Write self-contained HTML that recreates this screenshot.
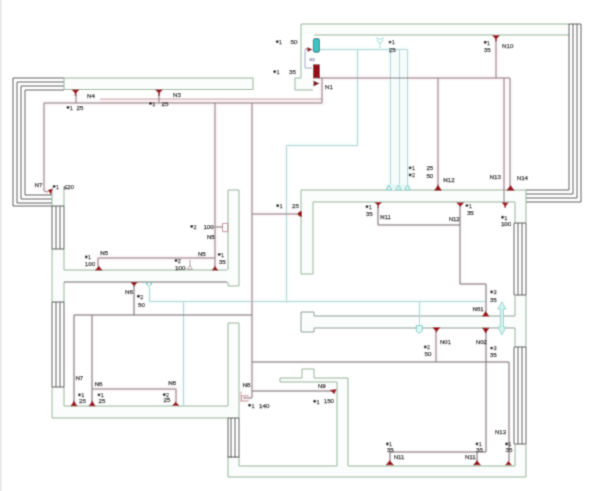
<!DOCTYPE html>
<html><head><meta charset="utf-8"><style>
html,body{margin:0;padding:0;background:#fff;}
body{width:600px;height:491px;overflow:hidden;position:relative;}
svg{position:absolute;left:0;top:0;font-family:"Liberation Sans",sans-serif;}
</style></head><body>
<svg width="600" height="491" viewBox="0 0 600 491">
<defs><filter id="f" x="0" y="0" width="600" height="491" filterUnits="userSpaceOnUse"><feConvolveMatrix order="3" kernelMatrix="1 4 1 4 16 4 1 4 1" divisor="36" edgeMode="duplicate"/></filter></defs>
<g filter="url(#f)"><rect width="600" height="491" fill="#fff"/>
<rect x="0" y="0" width="1.5" height="491" fill="#e6e6e6"/>
<line x1="64" y1="282" x2="227" y2="282" stroke="#fcf8f9" stroke-width="4"/>
<line x1="319.5" y1="49.5" x2="407.5" y2="49.5" stroke="#f1fbfb" stroke-width="4"/>
<line x1="357.5" y1="49.5" x2="357.5" y2="145.5" stroke="#f1fbfb" stroke-width="4"/>
<line x1="286.5" y1="145.5" x2="357.5" y2="145.5" stroke="#f1fbfb" stroke-width="4"/>
<line x1="286.5" y1="145.5" x2="286.5" y2="302.5" stroke="#f1fbfb" stroke-width="4"/>
<line x1="390.5" y1="49.5" x2="390.5" y2="186.5" stroke="#f1fbfb" stroke-width="4"/>
<line x1="399.5" y1="49.5" x2="399.5" y2="186.5" stroke="#f1fbfb" stroke-width="4"/>
<line x1="407.5" y1="49.5" x2="407.5" y2="186.5" stroke="#f1fbfb" stroke-width="4"/>
<polyline points="149.5,287.5 149.5,301.5 486.5,301.5" fill="none" stroke="#f1fbfb" stroke-width="4"/>
<line x1="183.5" y1="301.5" x2="183.5" y2="406.5" stroke="#f1fbfb" stroke-width="4"/>
<line x1="419.5" y1="301.5" x2="419.5" y2="326.5" stroke="#f1fbfb" stroke-width="4"/>
<polyline points="44,191 44,103 322,103 322,78" fill="none" stroke="#fdf4f6" stroke-width="5"/>
<line x1="319" y1="78" x2="510" y2="78" stroke="#fdf4f6" stroke-width="5"/>
<line x1="438" y1="78" x2="438" y2="186" stroke="#fdf4f6" stroke-width="5"/>
<line x1="496" y1="39" x2="496" y2="78" stroke="#fdf4f6" stroke-width="5"/>
<line x1="504" y1="78" x2="504" y2="203" stroke="#fdf4f6" stroke-width="5"/>
<line x1="510" y1="78" x2="510" y2="186" stroke="#fdf4f6" stroke-width="5"/>
<line x1="76" y1="92" x2="76" y2="103" stroke="#fdf4f6" stroke-width="5"/>
<line x1="159" y1="92" x2="159" y2="103" stroke="#fdf4f6" stroke-width="5"/>
<line x1="215" y1="103" x2="215" y2="266" stroke="#fdf4f6" stroke-width="5"/>
<line x1="252" y1="103" x2="252" y2="398" stroke="#fdf4f6" stroke-width="5"/>
<line x1="252" y1="214" x2="297" y2="214" stroke="#fdf4f6" stroke-width="5"/>
<polyline points="98,266 98,258 215,258" fill="none" stroke="#fdf4f6" stroke-width="5"/>
<line x1="134" y1="286" x2="134" y2="315" stroke="#fcf8f9" stroke-width="4"/>
<polyline points="74,402 74,315 252,315" fill="none" stroke="#fcf8f9" stroke-width="4"/>
<line x1="92" y1="315" x2="92" y2="402" stroke="#fcf8f9" stroke-width="4"/>
<polyline points="92,389 176,389 176,402" fill="none" stroke="#fdf4f6" stroke-width="5"/>
<line x1="252" y1="362" x2="509" y2="362" stroke="#fcf8f9" stroke-width="4"/>
<line x1="509" y1="362" x2="509" y2="461" stroke="#fcf8f9" stroke-width="4"/>
<line x1="252" y1="391" x2="331" y2="391" stroke="#fcf8f9" stroke-width="4"/>
<polyline points="378,207 378,225 460,225" fill="none" stroke="#fcf8f9" stroke-width="4"/>
<polyline points="460,207 460,284 486,284 486,311" fill="none" stroke="#fcf8f9" stroke-width="4"/>
<line x1="486" y1="332" x2="486" y2="452" stroke="#fcf8f9" stroke-width="4"/>
<line x1="436" y1="331" x2="436" y2="362" stroke="#fdf4f6" stroke-width="5"/>
<polyline points="390,461 390,452 486,452" fill="none" stroke="#fcf8f9" stroke-width="4"/>
<line x1="477" y1="452" x2="477" y2="461" stroke="#fcf8f9" stroke-width="4"/>
<line x1="215" y1="227" x2="223" y2="227" stroke="#fdf4f6" stroke-width="5"/>
<line x1="44" y1="191" x2="48" y2="192" stroke="#fdf4f6" stroke-width="5"/>
<line x1="243" y1="398" x2="252" y2="398" stroke="#fdf4f6" stroke-width="5"/>
<rect x="301" y="24" width="268" height="11" fill="#fafdfb"/>
<rect x="64" y="78" width="189" height="11.5" fill="#fafdfb"/>
<rect x="301" y="190" width="225" height="12.5" fill="#fafdfb"/>
<rect x="301" y="190" width="12" height="84" fill="#fafdfb"/>
<rect x="52.5" y="190" width="11.5" height="16" fill="#fafdfb"/>
<rect x="227.5" y="190" width="11.5" height="96" fill="#fafdfb"/>
<rect x="64" y="270" width="163" height="11.5" fill="#fafdfb"/>
<rect x="52.5" y="249" width="11.5" height="53" fill="#fafdfb"/>
<rect x="52.5" y="387" width="11.5" height="31.5" fill="#fafdfb"/>
<rect x="64" y="406.5" width="163.5" height="12" fill="#fafdfb"/>
<rect x="227" y="323" width="12" height="95.5" fill="#fafdfb"/>
<rect x="239" y="465.5" width="287" height="11.5" fill="#fafdfb"/>
<rect x="227" y="457" width="12" height="20" fill="#fafdfb"/>
<rect x="515" y="444" width="11" height="33" fill="#fafdfb"/>
<rect x="515" y="295" width="11" height="52" fill="#fafdfb"/>
<rect x="515" y="202.5" width="11" height="21" fill="#fafdfb"/>
<rect x="337" y="377.5" width="11" height="88" fill="#fafdfb"/>
<rect x="280" y="377.5" width="57" height="4.8" fill="#fafdfb"/>
<rect x="295.3" y="78" width="17.5" height="11.6" fill="#fafdfb"/>
<rect x="313" y="315.5" width="202" height="12.5" fill="#fafdfb"/>
<rect x="301" y="312" width="12" height="19.5" fill="#fafdfb"/>
<polyline points="64,78 13,78 13,206 52,206" fill="none" stroke="#565656" stroke-width="1"/>
<polyline points="64,82 17,82 17,203 52,203" fill="none" stroke="#565656" stroke-width="1"/>
<polyline points="64,86 21,86 21,199 52,199" fill="none" stroke="#565656" stroke-width="1"/>
<polyline points="64,90 25,90 25,195 52,195" fill="none" stroke="#565656" stroke-width="1"/>
<line x1="52" y1="206" x2="52" y2="249" stroke="#565656" stroke-width="1"/>
<line x1="52" y1="302" x2="52" y2="387" stroke="#565656" stroke-width="1"/>
<line x1="56" y1="206" x2="56" y2="249" stroke="#565656" stroke-width="1"/>
<line x1="56" y1="302" x2="56" y2="387" stroke="#565656" stroke-width="1"/>
<line x1="60" y1="206" x2="60" y2="249" stroke="#565656" stroke-width="1"/>
<line x1="60" y1="302" x2="60" y2="387" stroke="#565656" stroke-width="1"/>
<line x1="64" y1="206" x2="64" y2="249" stroke="#565656" stroke-width="1"/>
<line x1="64" y1="302" x2="64" y2="387" stroke="#565656" stroke-width="1"/>
<line x1="52" y1="188" x2="52" y2="206" stroke="#96b49a" stroke-width="1"/>
<line x1="64" y1="188" x2="64" y2="206" stroke="#96b49a" stroke-width="1"/>
<rect x="64" y="78" width="189" height="11.5" fill="none" stroke="#96b49a" stroke-width="1"/>
<line x1="52" y1="249" x2="52" y2="302" stroke="#96b49a" stroke-width="1"/>
<line x1="64" y1="249" x2="64" y2="270" stroke="#96b49a" stroke-width="1"/>
<line x1="64" y1="282" x2="64" y2="302" stroke="#96b49a" stroke-width="1"/>
<line x1="52" y1="387" x2="52" y2="418" stroke="#96b49a" stroke-width="1"/>
<line x1="64" y1="387" x2="64" y2="406" stroke="#96b49a" stroke-width="1"/>
<line x1="52" y1="418" x2="228" y2="418" stroke="#96b49a" stroke-width="1"/>
<line x1="64" y1="406" x2="228" y2="406" stroke="#96b49a" stroke-width="1"/>
<line x1="64" y1="270" x2="227" y2="270" stroke="#96b49a" stroke-width="1"/>
<line x1="64" y1="282" x2="227" y2="282" stroke="#6f6a6c" stroke-width="1"/>
<polyline points="228,270 228,190 239,190 239,286 228,286 228,282" fill="none" stroke="#96b49a" stroke-width="1"/>
<polyline points="228,406 228,323 239,323 239,418" fill="none" stroke="#96b49a" stroke-width="1"/>
<line x1="228" y1="418" x2="228" y2="458" stroke="#565656" stroke-width="1"/>
<line x1="231" y1="418" x2="231" y2="458" stroke="#565656" stroke-width="1"/>
<line x1="235" y1="418" x2="235" y2="458" stroke="#565656" stroke-width="1"/>
<line x1="239" y1="418" x2="239" y2="458" stroke="#565656" stroke-width="1"/>
<polyline points="228,458 228,477 526,477" fill="none" stroke="#96b49a" stroke-width="1"/>
<polyline points="239,458 239,466 337,466" fill="none" stroke="#96b49a" stroke-width="1"/>
<polyline points="280,378 302,378 302,369 314,369 314,378 348,378 348,466 515,466" fill="none" stroke="#96b49a" stroke-width="1"/>
<polyline points="280,378 280,382 337,382 337,466" fill="none" stroke="#96b49a" stroke-width="1"/>
<line x1="301" y1="24" x2="569" y2="24" stroke="#96b49a" stroke-width="1"/>
<line x1="314" y1="35" x2="569" y2="35" stroke="#96b49a" stroke-width="1"/>
<polyline points="301,24 301,78 295,78 295,90 313,90" fill="none" stroke="#96b49a" stroke-width="1"/>
<polyline points="569,24 569,190 526,190" fill="none" stroke="#565656" stroke-width="1"/>
<polyline points="573,24 573,194 526,194" fill="none" stroke="#565656" stroke-width="1"/>
<polyline points="577,24 577,198 526,198" fill="none" stroke="#565656" stroke-width="1"/>
<polyline points="581,24 581,202 526,202" fill="none" stroke="#565656" stroke-width="1"/>
<line x1="569" y1="24" x2="581" y2="24" stroke="#565656" stroke-width="1"/>
<line x1="301" y1="190" x2="526" y2="190" stroke="#96b49a" stroke-width="1"/>
<line x1="313" y1="202" x2="515" y2="202" stroke="#96b49a" stroke-width="1"/>
<polyline points="301,190 301,274 313,274 313,202" fill="none" stroke="#96b49a" stroke-width="1"/>
<line x1="526" y1="190" x2="526" y2="223" stroke="#96b49a" stroke-width="1"/>
<line x1="515" y1="202" x2="515" y2="223" stroke="#96b49a" stroke-width="1"/>
<line x1="514" y1="223" x2="514" y2="295" stroke="#565656" stroke-width="1"/>
<line x1="514" y1="347" x2="514" y2="444" stroke="#565656" stroke-width="1"/>
<line x1="518" y1="223" x2="518" y2="295" stroke="#565656" stroke-width="1"/>
<line x1="518" y1="347" x2="518" y2="444" stroke="#565656" stroke-width="1"/>
<line x1="522" y1="223" x2="522" y2="295" stroke="#565656" stroke-width="1"/>
<line x1="522" y1="347" x2="522" y2="444" stroke="#565656" stroke-width="1"/>
<line x1="526" y1="223" x2="526" y2="295" stroke="#565656" stroke-width="1"/>
<line x1="526" y1="347" x2="526" y2="444" stroke="#565656" stroke-width="1"/>
<line x1="526" y1="295" x2="526" y2="347" stroke="#96b49a" stroke-width="1"/>
<line x1="514" y1="223" x2="526" y2="223" stroke="#565656" stroke-width="1"/>
<line x1="514" y1="295" x2="526" y2="295" stroke="#565656" stroke-width="1"/>
<line x1="514" y1="347" x2="526" y2="347" stroke="#565656" stroke-width="1"/>
<line x1="514" y1="444" x2="526" y2="444" stroke="#565656" stroke-width="1"/>
<line x1="52" y1="206" x2="64" y2="206" stroke="#565656" stroke-width="1"/>
<line x1="52" y1="249" x2="64" y2="249" stroke="#565656" stroke-width="1"/>
<line x1="52" y1="302" x2="64" y2="302" stroke="#565656" stroke-width="1"/>
<line x1="52" y1="387" x2="64" y2="387" stroke="#565656" stroke-width="1"/>
<line x1="228" y1="418" x2="239" y2="418" stroke="#565656" stroke-width="1"/>
<line x1="228" y1="457" x2="239" y2="457" stroke="#565656" stroke-width="1"/>
<line x1="515" y1="295" x2="515" y2="316" stroke="#96b49a" stroke-width="1"/>
<line x1="515" y1="328" x2="515" y2="347" stroke="#96b49a" stroke-width="1"/>
<line x1="526" y1="444" x2="526" y2="477" stroke="#96b49a" stroke-width="1"/>
<line x1="515" y1="444" x2="515" y2="466" stroke="#96b49a" stroke-width="1"/>
<polyline points="515,316 314,316 314,312 301,312 301,332 314,332 314,328 515,328" fill="none" stroke="#8e9e94" stroke-width="1"/>
<rect x="391" y="50" width="16" height="136" fill="#f4fcfc"/>
<line x1="319.5" y1="49.5" x2="407.5" y2="49.5" stroke="#b4d6d8" stroke-width="1"/>
<line x1="357.5" y1="49.5" x2="357.5" y2="145.5" stroke="#b4d6d8" stroke-width="1"/>
<line x1="286.5" y1="145.5" x2="357.5" y2="145.5" stroke="#b4d6d8" stroke-width="1"/>
<line x1="286.5" y1="145.5" x2="286.5" y2="302.5" stroke="#b4d6d8" stroke-width="1"/>
<line x1="390.5" y1="49.5" x2="390.5" y2="186.5" stroke="#b4d6d8" stroke-width="1"/>
<line x1="399.5" y1="49.5" x2="399.5" y2="186.5" stroke="#b4d6d8" stroke-width="1"/>
<line x1="407.5" y1="49.5" x2="407.5" y2="186.5" stroke="#b4d6d8" stroke-width="1"/>
<polyline points="149.5,287.5 149.5,301.5 486.5,301.5" fill="none" stroke="#b4d6d8" stroke-width="1"/>
<line x1="183.5" y1="301.5" x2="183.5" y2="406.5" stroke="#b4d6d8" stroke-width="1"/>
<line x1="419.5" y1="301.5" x2="419.5" y2="326.5" stroke="#b4d6d8" stroke-width="1"/>
<rect x="100" y="99.5" width="222" height="3.5" fill="#fcedf0"/>
<line x1="100" y1="99" x2="322" y2="99" stroke="#c4a0a8" stroke-width="1"/>
<polyline points="44,191 44,103 322,103 322,78" fill="none" stroke="#85787e" stroke-width="1"/>
<line x1="319" y1="78" x2="510" y2="78" stroke="#85787e" stroke-width="1"/>
<line x1="438" y1="78" x2="438" y2="186" stroke="#85787e" stroke-width="1"/>
<line x1="496" y1="39" x2="496" y2="78" stroke="#85787e" stroke-width="1"/>
<line x1="504" y1="78" x2="504" y2="203" stroke="#85787e" stroke-width="1"/>
<line x1="510" y1="78" x2="510" y2="186" stroke="#85787e" stroke-width="1"/>
<line x1="76" y1="92" x2="76" y2="103" stroke="#85787e" stroke-width="1"/>
<line x1="159" y1="92" x2="159" y2="103" stroke="#85787e" stroke-width="1"/>
<line x1="215" y1="103" x2="215" y2="266" stroke="#85787e" stroke-width="1"/>
<line x1="252" y1="103" x2="252" y2="398" stroke="#85787e" stroke-width="1"/>
<line x1="252" y1="214" x2="297" y2="214" stroke="#85787e" stroke-width="1"/>
<polyline points="98,266 98,258 215,258" fill="none" stroke="#85787e" stroke-width="1"/>
<line x1="134" y1="286" x2="134" y2="315" stroke="#6f6a6c" stroke-width="1"/>
<polyline points="74,402 74,315 252,315" fill="none" stroke="#6f6a6c" stroke-width="1"/>
<line x1="92" y1="315" x2="92" y2="402" stroke="#6f6a6c" stroke-width="1"/>
<polyline points="92,389 176,389 176,402" fill="none" stroke="#85787e" stroke-width="1"/>
<line x1="252" y1="362" x2="509" y2="362" stroke="#6f6a6c" stroke-width="1"/>
<line x1="509" y1="362" x2="509" y2="461" stroke="#6f6a6c" stroke-width="1"/>
<line x1="252" y1="391" x2="331" y2="391" stroke="#6f6a6c" stroke-width="1"/>
<polyline points="378,207 378,225 460,225" fill="none" stroke="#6f6a6c" stroke-width="1"/>
<polyline points="460,207 460,284 486,284 486,311" fill="none" stroke="#6f6a6c" stroke-width="1"/>
<line x1="486" y1="332" x2="486" y2="452" stroke="#6f6a6c" stroke-width="1"/>
<line x1="436" y1="331" x2="436" y2="362" stroke="#85787e" stroke-width="1"/>
<polyline points="390,461 390,452 486,452" fill="none" stroke="#6f6a6c" stroke-width="1"/>
<line x1="477" y1="452" x2="477" y2="461" stroke="#6f6a6c" stroke-width="1"/>
<line x1="215" y1="227" x2="223" y2="227" stroke="#85787e" stroke-width="1"/>
<rect x="313.3" y="38.6" width="6.2" height="13.6" fill="#3cc4c4" stroke="#1f6f76" stroke-width="0.9" rx="1.5"/>
<rect x="313.3" y="64.8" width="6.2" height="13.2" fill="#9b0f14" stroke="#5a0808" stroke-width="0.7"/>
<polygon points="319.5,83.5 313.5,80.5 313.5,86.5" fill="#7a0c10"/>
<polygon points="312.5,49.4 307.5,46.9 307.5,51.9" fill="#8a1016"/>
<line x1="305" y1="49" x2="308" y2="49" stroke="#a05060" stroke-width="1"/>
<polyline points="305,50 305,68 312,68" fill="none" stroke="#a0a8c0" stroke-width="1"/>
<text x="309.5" y="61" font-size="4" fill="#8a94b0" stroke="#8a94b0" stroke-width="0.25">N2</text>
<polygon points="71.475,89.6 79.525,89.6 75.5,93.91999999999999" fill="#9c0a16"/>
<line x1="75.5" y1="92" x2="75.5" y2="96" stroke="#9c0a16" stroke-width="1.4"/>
<polygon points="154.975,89.6 163.025,89.6 159,93.91999999999999" fill="#9c0a16"/>
<line x1="159" y1="92" x2="159" y2="96" stroke="#9c0a16" stroke-width="1.4"/>
<polygon points="491.975,35.3 500.025,35.3 496,40.099999999999994" fill="#9c0a16"/>
<line x1="496" y1="38" x2="496" y2="41.5" stroke="#9c0a16" stroke-width="1.4"/>
<polygon points="433.975,190.8 442.025,190.8 438,184.20000000000002" fill="#9c0a16"/>
<polygon points="506.1875,190.8 514.8125,190.8 510.5,184.8" fill="#9c0a16"/>
<polygon points="501.75,202.4 508.65,202.4 505.2,207.20000000000002" fill="#9c0a16"/>
<line x1="505.2" y1="205" x2="505.2" y2="208" stroke="#9c0a16" stroke-width="1.3"/>
<polygon points="374.4625,202.3 381.9375,202.3 378.2,206.14000000000001" fill="#9c0a16"/>
<line x1="378.2" y1="204.5" x2="378.2" y2="208" stroke="#9c0a16" stroke-width="1.3"/>
<polygon points="456.175,202.4 464.22499999999997,202.4 460.2,207.20000000000002" fill="#9c0a16"/>
<polygon points="94.89,270.4 102.71,270.4 98.8,265.59999999999997" fill="#9c0a16"/>
<polygon points="211.665,270.4 218.335,270.4 215,265.59999999999997" fill="#9c0a16"/>
<polygon points="130.36249999999998,282 137.8375,282 134.1,286.8" fill="#9c0a16"/>
<polygon points="481.9625,316.4 489.4375,316.4 485.7,310.4" fill="#9c0a16"/>
<polygon points="481.9625,327.8 489.4375,327.8 485.7,333.8" fill="#9c0a16"/>
<polygon points="432.375,327.2 440.42499999999995,327.2 436.4,332.59999999999997" fill="#9c0a16"/>
<polygon points="70.55,406.3 77.45,406.3 74,400.3" fill="#9c0a16"/>
<polygon points="88.75,406.3 95.65,406.3 92.2,400.3" fill="#9c0a16"/>
<polygon points="171.96249999999998,405.8 179.4375,405.8 175.7,401.48" fill="#9c0a16"/>
<polygon points="385.4875,465.3 394.1125,465.3 389.8,459.90000000000003" fill="#9c0a16"/>
<polygon points="472.975,465.3 481.025,465.3 477,459.90000000000003" fill="#9c0a16"/>
<polygon points="505.05,465.3 511.95,465.3 508.5,460.5" fill="#9c0a16"/>
<path d="M297,214 Q299,210.5 302,211 L302,217 Q299,217.5 297,214 Z" fill="#9c0a16"/>
<polygon points="329.5,390 336.5,389 334.5,394.3" fill="#9c0a16"/>
<polygon points="47.6,190 52.8,188.5 51,194.7" fill="#9c0a16"/>
<line x1="44" y1="191" x2="48" y2="192" stroke="#85787e" stroke-width="1"/>
<polyline points="222.6,223.4 227.8,223.4 227.8,231.7 222.6,231.7 222.6,223.4" fill="none" stroke="#c08088" stroke-width="0.9"/>
<line x1="190" y1="260" x2="190" y2="266" stroke="#a89098" stroke-width="0.9"/>
<polygon points="187.3,269.3 192.5,269.3 189.9,265.5" fill="none" stroke="#a89098" stroke-width="0.9"/>
<polyline points="248.5,395.8 241.5,395.8 241.5,401 248.5,401" fill="none" stroke="#c08088" stroke-width="0.9"/>
<line x1="241" y1="391.5" x2="241" y2="402" stroke="#c8a0a8" stroke-width="0.9"/>
<line x1="243" y1="398" x2="252" y2="398" stroke="#85787e" stroke-width="1"/>
<path d="M376,37.5 Q380,41 384,37.5 M377,40 L380,44 L383,40 M380,44 L380,48" stroke="#b0e4dc" stroke-width="1.2" fill="none"/>
<rect x="386" y="184.5" width="25" height="5.5" fill="#e4f7f4"/>
<path d="M386.2,190 L389,185 L391.8,190 Z" stroke="#7fcfc8" stroke-width="1" fill="#dff4f2"/>
<path d="M395.7,190 L398.5,185 L401.3,190 Z" stroke="#7fcfc8" stroke-width="1" fill="#dff4f2"/>
<path d="M404.7,190 L407.5,185 L410.3,190 Z" stroke="#7fcfc8" stroke-width="1" fill="#dff4f2"/>
<path d="M145,281.5 L149,287 L153,281.5 M146,285 L149,282 L152,285" stroke="#7fcfc8" stroke-width="1" fill="none"/>
<path d="M416.3,325.6 L416.3,331 Q419.3,335 422.3,331 L422.3,325.6 Z" stroke="#7fcfc8" stroke-width="1" fill="#e0f6f4"/>
<path d="M501.9,301.7 L506,309 L503.5,309 L503.5,327 L506,327 L501.9,335 L497.8,327 L500.3,327 L500.3,309 L497.8,309 Z" stroke="#7fcfc8" stroke-width="0.8" fill="#d6f2ee"/>
<text x="87" y="98" font-size="6.2" fill="#2a2a2a" stroke="#2a2a2a" stroke-width="0.25">N4</text>
<circle cx="68" cy="107.5" r="1.45" fill="#111"/>
<text x="69.8" y="109.8" font-size="5.6" fill="#444" stroke="#444" stroke-width="0.25">1</text>
<text x="76.5" y="110" font-size="6.2" fill="#2a2a2a" stroke="#2a2a2a" stroke-width="0.25">25</text>
<text x="173" y="96.5" font-size="6.2" fill="#2a2a2a" stroke="#2a2a2a" stroke-width="0.25">N3</text>
<circle cx="150.5" cy="103.5" r="1.45" fill="#111"/>
<text x="152.3" y="105.8" font-size="5.6" fill="#444" stroke="#444" stroke-width="0.25">1</text>
<text x="161.5" y="106" font-size="6.2" fill="#2a2a2a" stroke="#2a2a2a" stroke-width="0.25">25</text>
<circle cx="277.2" cy="41.7" r="1.45" fill="#111"/>
<text x="279.0" y="44.0" font-size="5.6" fill="#444" stroke="#444" stroke-width="0.25">1</text>
<text x="290.5" y="44" font-size="6.2" fill="#2a2a2a" stroke="#2a2a2a" stroke-width="0.25">50</text>
<circle cx="274.7" cy="71.7" r="1.45" fill="#111"/>
<text x="276.5" y="74.0" font-size="5.6" fill="#444" stroke="#444" stroke-width="0.25">1</text>
<text x="289" y="74" font-size="6.2" fill="#2a2a2a" stroke="#2a2a2a" stroke-width="0.25">35</text>
<text x="325" y="88.5" font-size="6.2" fill="#2a2a2a" stroke="#2a2a2a" stroke-width="0.25">N1</text>
<circle cx="390" cy="42.1" r="1.45" fill="#111"/>
<text x="391.8" y="44.4" font-size="5.6" fill="#444" stroke="#444" stroke-width="0.25">1</text>
<text x="388.7" y="51.7" font-size="6.2" fill="#2a2a2a" stroke="#2a2a2a" stroke-width="0.25">25</text>
<circle cx="485.2" cy="42.3" r="1.45" fill="#111"/>
<text x="487.0" y="44.599999999999994" font-size="5.6" fill="#444" stroke="#444" stroke-width="0.25">1</text>
<text x="483.7" y="51.5" font-size="6.2" fill="#2a2a2a" stroke="#2a2a2a" stroke-width="0.25">35</text>
<text x="502" y="48.3" font-size="6.2" fill="#2a2a2a" stroke="#2a2a2a" stroke-width="0.25">N10</text>
<circle cx="410.1" cy="167.9" r="1.45" fill="#111"/>
<text x="411.90000000000003" y="170.20000000000002" font-size="5.6" fill="#444" stroke="#444" stroke-width="0.25">1</text>
<text x="426.4" y="170" font-size="6.2" fill="#2a2a2a" stroke="#2a2a2a" stroke-width="0.25">25</text>
<circle cx="410.1" cy="175" r="1.45" fill="#111"/>
<text x="411.90000000000003" y="177.3" font-size="5.6" fill="#444" stroke="#444" stroke-width="0.25">2</text>
<text x="426.4" y="177.5" font-size="6.2" fill="#2a2a2a" stroke="#2a2a2a" stroke-width="0.25">50</text>
<text x="443.3" y="182" font-size="6.2" fill="#2a2a2a" stroke="#2a2a2a" stroke-width="0.25">N12</text>
<text x="489.5" y="178.7" font-size="6.2" fill="#2a2a2a" stroke="#2a2a2a" stroke-width="0.25">N13</text>
<text x="516.7" y="180.3" font-size="6.2" fill="#2a2a2a" stroke="#2a2a2a" stroke-width="0.25">N14</text>
<circle cx="367" cy="206.7" r="1.45" fill="#111"/>
<text x="368.8" y="209.0" font-size="5.6" fill="#444" stroke="#444" stroke-width="0.25">1</text>
<text x="365.7" y="215.5" font-size="6.2" fill="#2a2a2a" stroke="#2a2a2a" stroke-width="0.25">35</text>
<text x="380.3" y="219" font-size="6" fill="#2a2a2a" stroke="#2a2a2a" stroke-width="0.25">N11</text>
<circle cx="466.9" cy="205.6" r="1.45" fill="#111"/>
<text x="468.7" y="207.9" font-size="5.6" fill="#444" stroke="#444" stroke-width="0.25">1</text>
<text x="466.9" y="215" font-size="6.2" fill="#2a2a2a" stroke="#2a2a2a" stroke-width="0.25">35</text>
<text x="448.7" y="220.5" font-size="6" fill="#2a2a2a" stroke="#2a2a2a" stroke-width="0.25">N12</text>
<circle cx="502.5" cy="217.2" r="1.45" fill="#111"/>
<text x="504.3" y="219.5" font-size="5.6" fill="#444" stroke="#444" stroke-width="0.25">1</text>
<text x="500.9" y="226.2" font-size="6.2" fill="#2a2a2a" stroke="#2a2a2a" stroke-width="0.25">100</text>
<text x="34.5" y="187" font-size="6.2" fill="#2a2a2a" stroke="#2a2a2a" stroke-width="0.25">N7</text>
<circle cx="54.1" cy="186.4" r="1.45" fill="#111"/>
<text x="55.9" y="188.70000000000002" font-size="5.6" fill="#444" stroke="#444" stroke-width="0.25">1</text>
<text x="63.7" y="188.5" font-size="6.2" fill="#2a2a2a" stroke="#2a2a2a" stroke-width="0.25">≤20</text>
<circle cx="277.7" cy="205.7" r="1.45" fill="#111"/>
<text x="279.5" y="208.0" font-size="5.6" fill="#444" stroke="#444" stroke-width="0.25">1</text>
<text x="292" y="208" font-size="6.2" fill="#2a2a2a" stroke="#2a2a2a" stroke-width="0.25">25</text>
<circle cx="191.7" cy="226.4" r="1.45" fill="#111"/>
<text x="193.5" y="228.70000000000002" font-size="5.6" fill="#444" stroke="#444" stroke-width="0.25">2</text>
<text x="203.4" y="228.6" font-size="6.2" fill="#2a2a2a" stroke="#2a2a2a" stroke-width="0.25">100</text>
<text x="206.9" y="238.6" font-size="6.2" fill="#2a2a2a" stroke="#2a2a2a" stroke-width="0.25">N5</text>
<circle cx="86.2" cy="257" r="1.45" fill="#111"/>
<text x="88.0" y="259.3" font-size="5.6" fill="#444" stroke="#444" stroke-width="0.25">1</text>
<text x="84.8" y="266.2" font-size="6.2" fill="#2a2a2a" stroke="#2a2a2a" stroke-width="0.25">100</text>
<text x="100.2" y="255.4" font-size="6.2" fill="#2a2a2a" stroke="#2a2a2a" stroke-width="0.25">N5</text>
<circle cx="176" cy="260.6" r="1.45" fill="#111"/>
<text x="177.8" y="262.90000000000003" font-size="5.6" fill="#444" stroke="#444" stroke-width="0.25">2</text>
<text x="175" y="270" font-size="6.2" fill="#2a2a2a" stroke="#2a2a2a" stroke-width="0.25">100</text>
<text x="197.9" y="256" font-size="6.2" fill="#2a2a2a" stroke="#2a2a2a" stroke-width="0.25">N5</text>
<circle cx="219.2" cy="254.4" r="1.45" fill="#111"/>
<text x="221.0" y="256.7" font-size="5.6" fill="#444" stroke="#444" stroke-width="0.25">1</text>
<text x="218.7" y="263.5" font-size="6.2" fill="#2a2a2a" stroke="#2a2a2a" stroke-width="0.25">35</text>
<text x="125" y="293.5" font-size="6.2" fill="#2a2a2a" stroke="#2a2a2a" stroke-width="0.25">N6</text>
<circle cx="138.4" cy="296.2" r="1.45" fill="#111"/>
<text x="140.20000000000002" y="298.5" font-size="5.6" fill="#444" stroke="#444" stroke-width="0.25">2</text>
<text x="138" y="306.5" font-size="6.2" fill="#2a2a2a" stroke="#2a2a2a" stroke-width="0.25">50</text>
<text x="472.6" y="310.7" font-size="6" fill="#2a2a2a" stroke="#2a2a2a" stroke-width="0.25">N61</text>
<circle cx="491.6" cy="292" r="1.45" fill="#111"/>
<text x="493.40000000000003" y="294.3" font-size="5.6" fill="#444" stroke="#444" stroke-width="0.25">3</text>
<text x="489.7" y="301.7" font-size="6.2" fill="#2a2a2a" stroke="#2a2a2a" stroke-width="0.25">35</text>
<text x="440" y="343.5" font-size="6" fill="#2a2a2a" stroke="#2a2a2a" stroke-width="0.25">N01</text>
<text x="475.8" y="344" font-size="6" fill="#2a2a2a" stroke="#2a2a2a" stroke-width="0.25">N02</text>
<circle cx="425.2" cy="347" r="1.45" fill="#111"/>
<text x="427.0" y="349.3" font-size="5.6" fill="#444" stroke="#444" stroke-width="0.25">2</text>
<text x="424.5" y="355.5" font-size="6.2" fill="#2a2a2a" stroke="#2a2a2a" stroke-width="0.25">50</text>
<circle cx="491.6" cy="348.1" r="1.45" fill="#111"/>
<text x="493.40000000000003" y="350.40000000000003" font-size="5.6" fill="#444" stroke="#444" stroke-width="0.25">3</text>
<text x="489.7" y="357" font-size="6.2" fill="#2a2a2a" stroke="#2a2a2a" stroke-width="0.25">35</text>
<text x="75.4" y="379.5" font-size="6.2" fill="#2a2a2a" stroke="#2a2a2a" stroke-width="0.25">N7</text>
<text x="94.5" y="385.5" font-size="6.2" fill="#2a2a2a" stroke="#2a2a2a" stroke-width="0.25">N6</text>
<circle cx="79.4" cy="394.9" r="1.45" fill="#111"/>
<text x="81.2" y="397.2" font-size="5.6" fill="#444" stroke="#444" stroke-width="0.25">1</text>
<text x="79" y="402.5" font-size="6.2" fill="#2a2a2a" stroke="#2a2a2a" stroke-width="0.25">25</text>
<circle cx="99" cy="394.9" r="1.45" fill="#111"/>
<text x="100.8" y="397.2" font-size="5.6" fill="#444" stroke="#444" stroke-width="0.25">1</text>
<text x="98.5" y="402.5" font-size="6.2" fill="#2a2a2a" stroke="#2a2a2a" stroke-width="0.25">25</text>
<text x="168.3" y="385" font-size="6.2" fill="#2a2a2a" stroke="#2a2a2a" stroke-width="0.25">N6</text>
<circle cx="164.2" cy="394.7" r="1.45" fill="#111"/>
<text x="166.0" y="397.0" font-size="5.6" fill="#444" stroke="#444" stroke-width="0.25">2</text>
<text x="163.5" y="402" font-size="6.2" fill="#2a2a2a" stroke="#2a2a2a" stroke-width="0.25">25</text>
<text x="242.6" y="387" font-size="6.2" fill="#2a2a2a" stroke="#2a2a2a" stroke-width="0.25">N8</text>
<circle cx="249.6" cy="405.3" r="1.45" fill="#111"/>
<text x="251.4" y="407.6" font-size="5.6" fill="#444" stroke="#444" stroke-width="0.25">1</text>
<text x="259.1" y="408" font-size="6.2" fill="#2a2a2a" stroke="#2a2a2a" stroke-width="0.25">140</text>
<text x="317.8" y="388" font-size="6.2" fill="#2a2a2a" stroke="#2a2a2a" stroke-width="0.25">N9</text>
<circle cx="314.7" cy="401.3" r="1.45" fill="#111"/>
<text x="316.5" y="403.6" font-size="5.6" fill="#444" stroke="#444" stroke-width="0.25">1</text>
<text x="323.7" y="403" font-size="6.2" fill="#2a2a2a" stroke="#2a2a2a" stroke-width="0.25">150</text>
<circle cx="387.3" cy="444" r="1.45" fill="#111"/>
<text x="389.1" y="446.3" font-size="5.6" fill="#444" stroke="#444" stroke-width="0.25">1</text>
<text x="386.7" y="452" font-size="6.2" fill="#2a2a2a" stroke="#2a2a2a" stroke-width="0.25">35</text>
<text x="393.7" y="459" font-size="6" fill="#2a2a2a" stroke="#2a2a2a" stroke-width="0.25">N11</text>
<circle cx="477" cy="444" r="1.45" fill="#111"/>
<text x="478.8" y="446.3" font-size="5.6" fill="#444" stroke="#444" stroke-width="0.25">1</text>
<text x="476" y="452" font-size="6.2" fill="#2a2a2a" stroke="#2a2a2a" stroke-width="0.25">35</text>
<text x="465" y="459" font-size="6" fill="#2a2a2a" stroke="#2a2a2a" stroke-width="0.25">N11</text>
<circle cx="506.5" cy="444" r="1.45" fill="#111"/>
<text x="508.3" y="446.3" font-size="5.6" fill="#444" stroke="#444" stroke-width="0.25">1</text>
<text x="505.5" y="452" font-size="6.2" fill="#2a2a2a" stroke="#2a2a2a" stroke-width="0.25">35</text>
<text x="495" y="433.5" font-size="6" fill="#2a2a2a" stroke="#2a2a2a" stroke-width="0.25">N13</text>
</g></svg>
</body></html>
